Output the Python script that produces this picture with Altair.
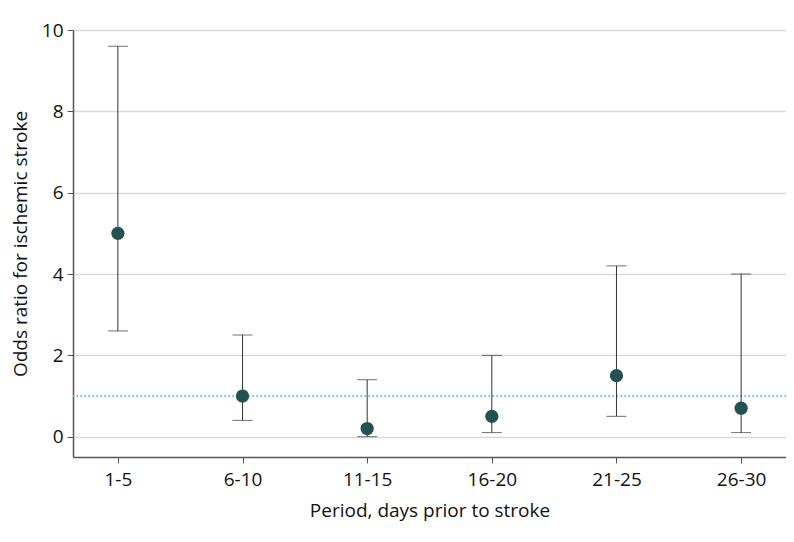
import altair as alt
import pandas as pd

periods = ["1-5", "6-10", "11-15", "16-20", "21-25", "26-30"]
odds = [5.0, 1.0, 0.2, 0.5, 1.5, 0.7]
lower = [2.6, 0.4, 0.0, 0.1, 0.5, 0.1]
upper = [9.6, 2.5, 1.4, 2.0, 4.2, 4.0]
ref_value = [1.0]

df = pd.DataFrame({"period": periods, "odds": odds, "lo": lower, "hi": upper})
ref = pd.DataFrame({"y": ref_value})

FONT = "Open Sans"

x = alt.X("period:N", sort=periods,
          scale=alt.Scale(type="point", padding=0.36),
          axis=alt.Axis(title="Period, days prior to stroke", labelAngle=0,
                        grid=False, tickSize=6, labelPadding=7,
                        titlePadding=12))
yscale = alt.Scale(domain=[-0.5, 10], nice=False, zero=False)

base = alt.Chart(df)

bars = base.mark_rule(color="#333333", strokeWidth=1).encode(
    x=x,
    y=alt.Y("lo:Q", scale=yscale,
            axis=alt.Axis(title="Odds ratio for ischemic stroke",
                          values=[0, 2, 4, 6, 8, 10], grid=True,
                          tickSize=6, labelPadding=4, titlePadding=11)),
    y2="hi:Q",
)
cap_lo = base.mark_tick(color="#333333", size=20, thickness=1).encode(
    x=x, y=alt.Y("lo:Q", scale=yscale))
cap_hi = base.mark_tick(color="#333333", size=20, thickness=1).encode(
    x=x, y=alt.Y("hi:Q", scale=yscale))

refline = alt.Chart(ref).mark_rule(color="#00d8d8", strokeWidth=1.6,
                                   strokeDash=[1.6, 2.4]).encode(
    y=alt.Y("y:Q", scale=yscale))

points = base.mark_point(filled=True, color="#245250", size=175,
                         opacity=1).encode(
    x=x, y=alt.Y("odds:Q", scale=yscale))

chart = alt.layer(refline, bars, cap_lo, cap_hi, points).properties(
    width=713, height=427,
    autosize=alt.AutoSizeParams(type="none"),
    padding={"left": 65, "top": 22, "right": 0, "bottom": 77},
).configure_view(stroke=None).configure_axis(
    labelFont=FONT, titleFont=FONT, labelFontSize=19, titleFontSize=19,
    titleFontWeight="normal", labelColor="#111111", titleColor="#111111",
    domainColor="#555555", tickColor="#555555", gridColor="#d9d9d9",
    gridWidth=1.5, domainWidth=1.5,
)

chart.save("out.html", embed_options={"renderer": "svg", "actions": False})
